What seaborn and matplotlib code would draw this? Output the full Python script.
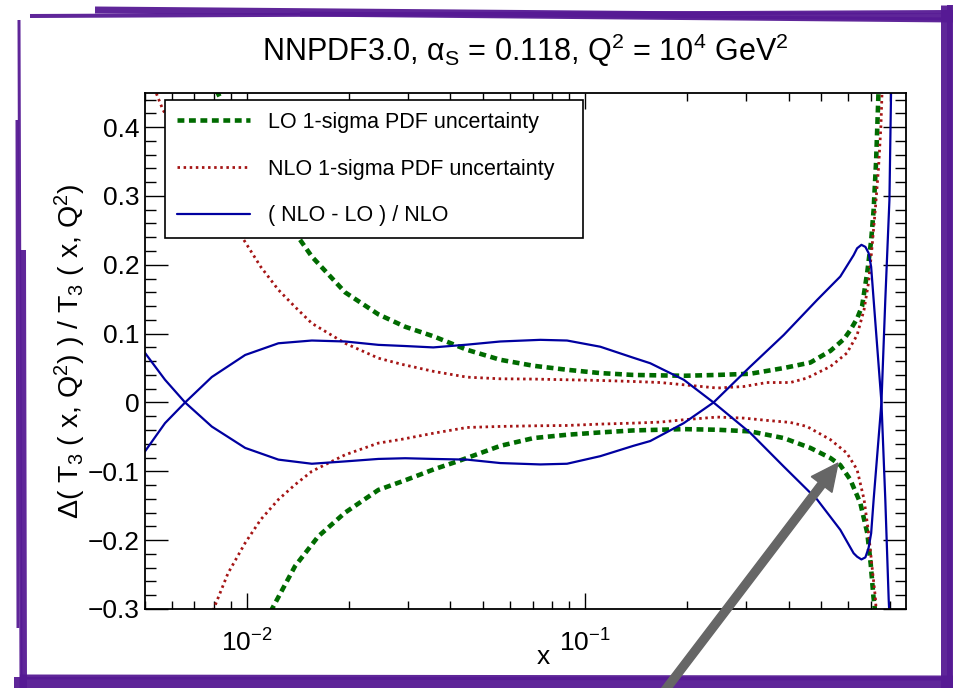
import numpy as np
import seaborn as sns
import matplotlib
matplotlib.use('Agg')
import matplotlib.pyplot as plt
from matplotlib.lines import Line2D
from matplotlib.patches import FancyArrow
from matplotlib.ticker import LogLocator, MultipleLocator, FuncFormatter, NullFormatter
from matplotlib.transforms import IdentityTransform

# values
lo_up_x = [0.0080, 0.0082, 0.0096, 0.0113, 0.01406, 0.01557, 0.01953, 0.0245, 0.0294, 0.0358, 0.0448,
           0.0562, 0.0705, 0.0885, 0.111, 0.139, 0.196, 0.246, 0.308, 0.387, 0.464, 0.532, 0.583,
           0.609, 0.638, 0.660, 0.684, 0.702, 0.714, 0.726, 0.738, 0.742]
lo_up_y = [0.47, 0.45, 0.38, 0.31, 0.243, 0.212, 0.160, 0.128, 0.110, 0.0958, 0.0765,
           0.062, 0.0533, 0.0475, 0.0427, 0.040, 0.0388, 0.040, 0.0417, 0.050, 0.058, 0.075, 0.092,
           0.105, 0.122, 0.140, 0.190, 0.235, 0.28, 0.35, 0.45, 0.48]

lo_dn_x = [0.0115, 0.01187, 0.01388, 0.01627, 0.01953, 0.0245, 0.0294, 0.0358, 0.0423, 0.0562, 0.0705,
           0.0885, 0.111, 0.139, 0.196, 0.246, 0.308, 0.387, 0.464, 0.532, 0.569, 0.609, 0.652,
           0.684, 0.700, 0.713, 0.720, 0.724]
lo_dn_y = [-0.32, -0.30, -0.238, -0.1945, -0.160, -0.127, -0.113, -0.097, -0.085, -0.063, -0.0517,
           -0.0469, -0.0435, -0.0406, -0.0387, -0.0396, -0.042, -0.0517, -0.066, -0.0807, -0.091, -0.112, -0.146,
           -0.190, -0.235, -0.282, -0.30, -0.33]

nlo_up_x = [0.0050, 0.0054, 0.00565, 0.0068, 0.0081, 0.00966, 0.0110, 0.0124, 0.01388, 0.01557, 0.01953,
            0.0245, 0.0287, 0.0358, 0.0448, 0.0562, 0.0705, 0.0885, 0.111, 0.139, 0.167, 0.196, 0.246,
            0.295, 0.345, 0.405, 0.453, 0.532, 0.595, 0.638, 0.669, 0.690, 0.706, 0.722, 0.738,
            0.750, 0.756, 0.760]
nlo_up_y = [0.47, 0.449, 0.425, 0.362, 0.303, 0.241, 0.197, 0.1636, 0.139, 0.115, 0.086,
            0.0644, 0.0555, 0.045, 0.0368, 0.0344, 0.034, 0.033, 0.032, 0.0305, 0.029, 0.0257, 0.021,
            0.0232, 0.029, 0.029, 0.0354, 0.0523, 0.0717, 0.098, 0.135, 0.175, 0.225, 0.28, 0.34,
            0.40, 0.45, 0.48]

nlo_dn_x = [0.0078, 0.00798, 0.0088, 0.00989, 0.0110, 0.0124, 0.01388, 0.01557, 0.01953, 0.0245, 0.0287,
            0.0358, 0.0448, 0.0562, 0.0705, 0.0885, 0.111, 0.139, 0.167, 0.196, 0.246, 0.295, 0.345,
            0.405, 0.453, 0.532, 0.595, 0.638, 0.669, 0.690, 0.706, 0.722, 0.726, 0.730]
nlo_dn_y = [-0.31, -0.30, -0.248, -0.204, -0.170, -0.141, -0.1195, -0.100, -0.076, -0.059, -0.0535,
            -0.0445, -0.0363, -0.0348, -0.0339, -0.0334, -0.0314, -0.030, -0.0285, -0.0251, -0.0212, -0.0227, -0.026,
            -0.029, -0.0348, -0.054, -0.0735, -0.0977, -0.141, -0.190, -0.238, -0.282, -0.30, -0.33]

ratio_a_x = [0.0050, 0.00573, 0.00657, 0.00788, 0.00989, 0.0124, 0.01557, 0.01953, 0.0245, 0.0294, 0.0356,
             0.0448, 0.0562, 0.0738, 0.0885, 0.111, 0.139, 0.156, 0.196, 0.240, 0.308, 0.387, 0.486,
             0.569, 0.623, 0.638, 0.657, 0.675, 0.690, 0.702, 0.714, 0.753, 0.773, 0.791, 0.797]
ratio_a_y = [0.072, 0.033, 0.0, -0.035, -0.066, -0.083, -0.089, -0.0856, -0.082, -0.081, -0.082,
             -0.083, -0.088, -0.090, -0.089, -0.078, -0.063, -0.056, -0.030, 0.0, 0.052, 0.098, 0.149,
             0.183, 0.214, 0.224, 0.229, 0.226, 0.217, 0.197, 0.149, 0.0, -0.141, -0.286, -0.32]

ratio_b_x = [0.0050, 0.00573, 0.00657, 0.00788, 0.00989, 0.0124, 0.01557, 0.01953, 0.0245, 0.0294, 0.0356,
             0.0448, 0.0562, 0.0738, 0.0885, 0.111, 0.139, 0.156, 0.196, 0.240, 0.308, 0.387, 0.486,
             0.569, 0.623, 0.638, 0.657, 0.675, 0.690, 0.702, 0.714, 0.753, 0.773, 0.795, 0.805]
ratio_b_y = [-0.071, -0.030, 0.0, 0.037, 0.069, 0.086, 0.090, 0.0886, 0.0837, 0.082, 0.080,
             0.084, 0.0886, 0.091, 0.090, 0.081, 0.065, 0.057, 0.033, 0.0, -0.044, -0.093, -0.141,
             -0.185, -0.219, -0.224, -0.228, -0.225, -0.211, -0.190, -0.141, 0.0, 0.149, 0.294, 0.47]

legend_labels = ['LO 1-sigma PDF uncertainty', 'NLO 1-sigma PDF uncertainty', '( NLO - LO ) / NLO']

GREEN = '#006b00'
RED = '#a51515'
BLUE = '#0000a0'
PURPLE = '#561a94'
green_ls = (0, (1.5, 1.0))
red_ls = (0, (0.9, 1.3))

sns.set_theme(style='ticks')
plt.rcParams['font.family'] = ['Liberation Sans', 'DejaVu Sans']
plt.rcParams['text.color'] = 'black'
plt.rcParams['mathtext.fontset'] = 'custom'
plt.rcParams['mathtext.rm'] = 'Liberation Sans'
plt.rcParams['mathtext.it'] = 'Liberation Sans'
plt.rcParams['mathtext.bf'] = 'Liberation Sans:bold'

fig = plt.figure(figsize=(9.54, 6.88), dpi=100)
fig.patch.set_facecolor('white')
ax = fig.add_axes([145 / 954, 1 - 609 / 688, 761 / 954, 516.3 / 688])

sns.lineplot(x=lo_up_x, y=lo_up_y, ax=ax, color=GREEN, lw=3.3, linestyle=green_ls, sort=False)
sns.lineplot(x=lo_dn_x, y=lo_dn_y, ax=ax, color=GREEN, lw=3.3, linestyle=green_ls, sort=False)
sns.lineplot(x=nlo_up_x, y=nlo_up_y, ax=ax, color=RED, lw=2.0, linestyle=red_ls, sort=False)
sns.lineplot(x=nlo_dn_x, y=nlo_dn_y, ax=ax, color=RED, lw=2.0, linestyle=red_ls, sort=False)
sns.lineplot(x=ratio_a_x, y=ratio_a_y, ax=ax, color=BLUE, lw=1.6, sort=False)
sns.lineplot(x=ratio_b_x, y=ratio_b_y, ax=ax, color=BLUE, lw=1.6, sort=False)

ax.set_xscale('log')
ax.set_xlim(0.005, 0.89)
ax.set_ylim(-0.3, 0.45)
ax.set_xlabel('')
ax.set_ylabel('')

ax.xaxis.set_major_locator(LogLocator(base=10, numticks=10))
ax.xaxis.set_minor_locator(LogLocator(base=10, subs=np.arange(2, 10), numticks=20))
ax.xaxis.set_minor_formatter(NullFormatter())
ax.yaxis.set_major_locator(MultipleLocator(0.1))
ax.yaxis.set_minor_locator(MultipleLocator(0.02))
ax.yaxis.set_major_formatter(FuncFormatter(
    lambda v, p: '0' if abs(v) < 1e-9 else f'{v:.1f}'.replace('-', '\u2212')))

ax.tick_params(axis='both', which='both', direction='in', top=True, right=True,
               color='black', width=1.0, labelsize=19, labelcolor='black')
ax.tick_params(axis='x', which='major', length=11.2, pad=15)
ax.tick_params(axis='x', which='minor', length=5.6)
ax.tick_params(axis='y', which='major', length=16.4, pad=4)
ax.tick_params(axis='y', which='minor', length=8.2)
for s in ax.spines.values():
    s.set_color('black')
    s.set_linewidth(1.3)

ax.set_title('NNPDF3.0, \u03b1$_{\\mathrm{S}}$ = 0.118, Q$^{2}$ = 10$^{4}$ GeV$^{2}$',
             fontsize=22, pad=23, color='black')
fig.text(70 / 954, 1 - 351 / 688, '\u0394( T$_{3}$ ( x, Q$^{2}$) ) / T$_{3}$ ( x, Q$^{2}$)',
         rotation=90, ha='center', va='center', fontsize=20.5, color='black')
fig.text(543 / 954, 1 - 657 / 688, 'x', ha='center', va='center', fontsize=19, color='black')

handles = [Line2D([], [], color=GREEN, lw=3.3, linestyle=green_ls),
           Line2D([], [], color=RED, lw=2.0, linestyle=red_ls),
           Line2D([], [], color=BLUE, lw=1.6)]
leg = ax.legend(handles, legend_labels, loc='upper left',
                bbox_to_anchor=(0.0263, 0.724, 0.549, 0.262), mode='expand',
                fontsize=15.5, handlelength=3.4, handletextpad=0.85, labelspacing=1.2,
                borderpad=0.55, borderaxespad=0, frameon=True, fancybox=False,
                edgecolor='black', framealpha=1, labelcolor='black')
leg.get_frame().set_linewidth(1.2)
leg.set_zorder(5)

# sketchy purple frame, in image pixels (origin bottom-left)
H = 688
tr = IdentityTransform()
frame = [
    ((30, 954), (H - 16, H - 12), 4),
    ((95, 954), (H - 10, H - 17), 7),
    ((300, 954), (H - 14, H - 20), 5),
    ((946, 946), (H - 5, 0), 11),
    ((950, 950), (H - 5, 0), 6),
    ((14, 954), (5, 5), 12),
    ((20, 954), (11, 10), 5),
    ((19, 21), (H - 20, 0), 3),
    ((23, 24), (H - 250, 0), 6),
    ((17, 18), (H - 120, 60), 3),
]
for xs, ys, w in frame:
    fig.add_artist(Line2D(xs, ys, transform=tr, color=PURPLE, lw=w * 0.72,
                          solid_capstyle='butt', alpha=0.95, zorder=10))

# gray arrow pointing at the LO band
tail = (663, -5)
tip = (838, H - 463)
arrow = FancyArrow(tail[0], tail[1], tip[0] - tail[0], tip[1] - tail[1], width=8,
                   head_width=26, head_length=27, length_includes_head=True,
                   color='#666666', transform=tr, zorder=11)
fig.add_artist(arrow)

fig.savefig('out.png', dpi=100)
